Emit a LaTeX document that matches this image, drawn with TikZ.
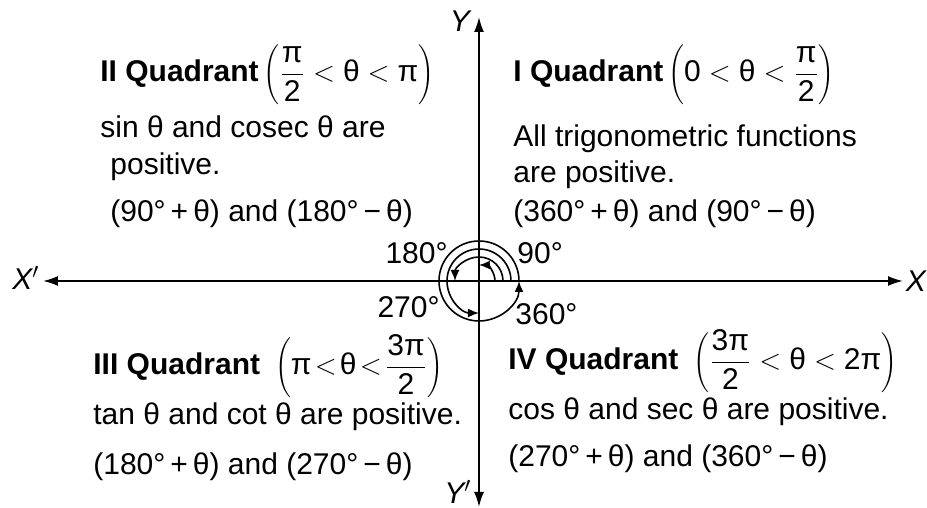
\documentclass[tikz,border=0pt]{standalone}
\usepackage{fontspec}
\setmainfont{Liberation Sans}
\usetikzlibrary{arrows.meta}

\newcommand{\gth}{\mbox{θ}}
\newcommand{\gpi}{\mbox{π}}
\newcommand{\dig}[1]{\mbox{#1}}

\begin{document}
\begin{tikzpicture}[
  x=0.5pt, y=0.5pt,
  every node/.style={font=\fontsize{15}{18}\selectfont, inner sep=0pt},
  txt/.style={anchor=base west},
  axis/.style={line width=0.9pt, {Latex[length=7.5pt,width=5pt]}-{Latex[length=7.5pt,width=5pt]}},
  turn/.style={line width=0.8pt, -{Latex[length=5.5pt,width=4.5pt]}},
  axlabel/.style={font=\fontsize{15}{18}\selectfont\itshape}
]
\useasboundingbox (-479,-227) rectangle (448,281);
\coordinate (O) at (0,0);
\coordinate (xl) at (-436,0);
\coordinate (xr) at (424,0);
\coordinate (yt) at (0,264);
\coordinate (yb) at (0,-226);

% axes
\draw[axis] (xl) -- (xr);
\draw[axis] (yb) -- (yt);
\node[axlabel] (xneg) at (-453,3) {X$'$};
\node[axlabel] (xpos) at (437,0) {X};
\node[axlabel] (ypos) at (-19,260) {Y};
\node[axlabel] (yneg) at (-21,-211) {Y$'$};

% rotation arcs
\foreach \r/\a in {16/90,24/180,32/270,40/360}
  \draw[turn] (\r,0) arc[start angle=0, end angle=\a, radius=\r];
\node[anchor=east] (d180) at (-31,28) {180°};
\node[anchor=west] (d90) at (38,28) {90°};
\node[anchor=east] (d270) at (-39,-26) {270°};
\node[anchor=west] (d360) at (36,-33) {360°};

% II quadrant
\node[txt] (q2head) at (-379,199) {{\bfseries II Quadrant}\,$\displaystyle\left(\frac{\gpi}{\dig{2}} < \gth < \gpi\right)$};
\node[txt] (q2a) at (-379,143) {sin θ and cosec θ are};
\node[txt] (q2b) at (-369,106) {positive.};
\node[txt] (q2c) at (-369,59) {(90°\,+\,θ) and (180°\,−\,θ)};

% I quadrant
\node[txt] (q1head) at (34,199) {{\bfseries I Quadrant}\,$\displaystyle\left(\dig{0} < \gth < \frac{\gpi}{\dig{2}}\right)$};
\node[txt] (q1a) at (34,134) {All trigonometric functions};
\node[txt] (q1b) at (34,98) {are positive.};
\node[txt] (q1c) at (34,59) {(360°\,+\,θ) and (90°\,−\,θ)};

% III quadrant
\node[txt] (q3head) at (-386,-94) {{\bfseries III Quadrant}\enspace$\displaystyle\left(\gpi\mkern2mu{<}\mkern2mu\gth\mkern2mu{<}\mkern2mu\frac{\dig{3}\gpi}{\dig{2}}\right)$};
\node[txt] (q3a) at (-386,-144) {tan θ and cot θ are positive.};
\node[txt] (q3b) at (-386,-194) {(180°\,+\,θ) and (270°\,−\,θ)};

% IV quadrant
\node[txt] (q4head) at (29,-89) {{\bfseries IV Quadrant}\enspace$\displaystyle\left(\frac{\dig{3}\gpi}{\dig{2}} < \gth < \dig{2}\gpi\right)$};
\node[txt] (q4a) at (29,-139) {cos θ and sec θ are positive.};
\node[txt] (q4b) at (29,-186) {(270°\,+\,θ) and (360°\,−\,θ)};
\end{tikzpicture}
\end{document}
